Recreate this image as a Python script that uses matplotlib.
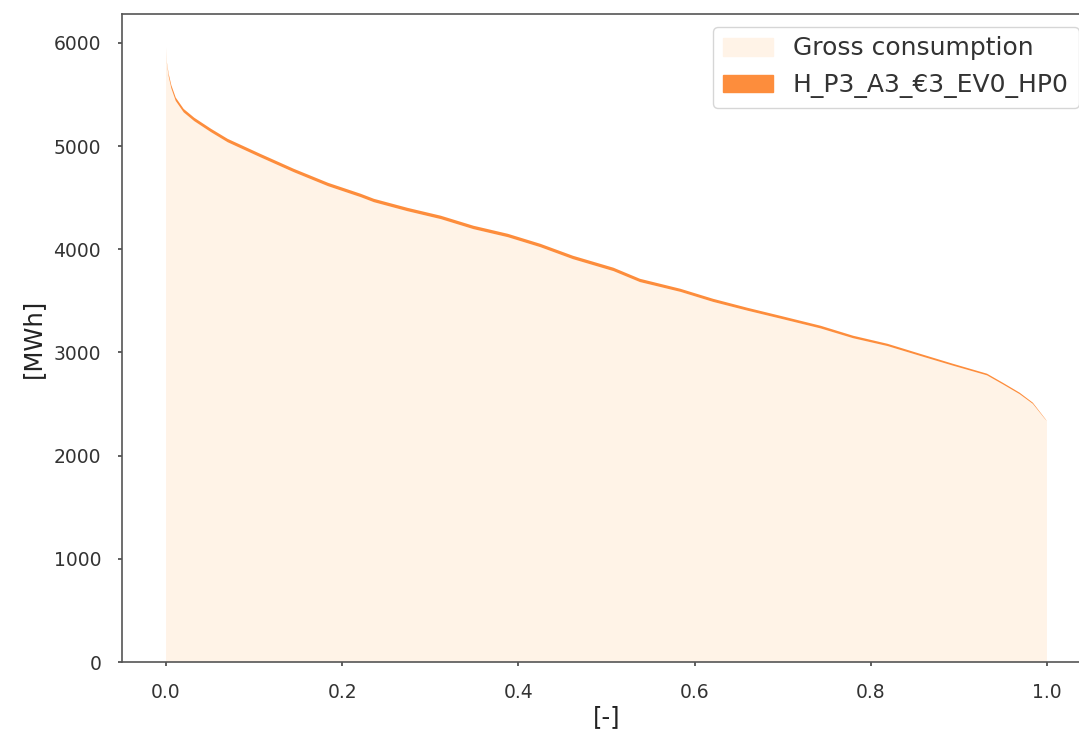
import matplotlib.pyplot as plt
import matplotlib.patches as mpatches
import numpy as np

# duration curve (fraction of hours, MWh at top of the curve)
share = [0.0, 0.001, 0.003, 0.006, 0.011, 0.020, 0.032, 0.051, 0.070, 0.107,
         0.145, 0.184, 0.221, 0.236, 0.274, 0.312, 0.349, 0.388, 0.425, 0.462,
         0.508, 0.538, 0.584, 0.621, 0.660, 0.697, 0.743, 0.780, 0.819, 0.856,
         0.893, 0.932, 0.950, 0.969, 0.984, 0.998, 1.0]
top = [5960, 5810, 5700, 5590, 5470, 5360, 5275, 5168, 5070, 4925,
       4780, 4644, 4538, 4489, 4402, 4325, 4228, 4150, 4053, 3937,
       3821, 3714, 3617, 3520, 3433, 3356, 3259, 3162, 3084, 2987,
       2891, 2794, 2706, 2610, 2513, 2358, 2335]
band = [0, 10, 25, 30, 32, 33, 33, 33, 33, 33,
        33, 33, 33, 33, 33, 33, 33, 33, 33, 33,
        33, 32, 30, 30, 28, 27, 26, 24, 22, 20,
        18, 16, 15, 14, 11, 5, 0]

labels = ["Gross consumption", "H_P3_A3_€3_EV0_HP0"]
colors = ["#fff3e7", "#fd8d3c"]

share = np.array(share)
band = np.array(band)
gross = np.array(top) - band

fig = plt.figure(figsize=(10.79, 7.33), dpi=100)
ax = fig.add_axes([122 / 1079, 1 - 662 / 733, 969 / 1079, 648 / 733])

ax.stackplot(share, gross, band, colors=colors, linewidth=0)

ax.set_xlim(-0.05, 1.05)
ax.set_ylim(0, 6280)
ax.set_xticks([0.0, 0.2, 0.4, 0.6, 0.8, 1.0])
ax.set_yticks([0, 1000, 2000, 3000, 4000, 5000, 6000])
ax.tick_params(labelsize=13.5, labelcolor="#333333", color="#444444",
               length=3, width=1.2, pad=12)
for s in ax.spines.values():
    s.set_color("#555555")
    s.set_linewidth(1.2)

ax.set_xlabel("[-]", fontsize=17.5, labelpad=2, color="#222222")
ax.set_ylabel("[MWh]", fontsize=17.5, labelpad=6, color="#222222")

handles = [mpatches.Patch(color=c, label=l) for c, l in zip(colors, labels)]
leg = ax.legend(handles=handles, loc="upper right", fontsize=18, borderaxespad=0.5)
for t in leg.get_texts():
    t.set_color("#333333")

fig.savefig("out.png", dpi=100)
